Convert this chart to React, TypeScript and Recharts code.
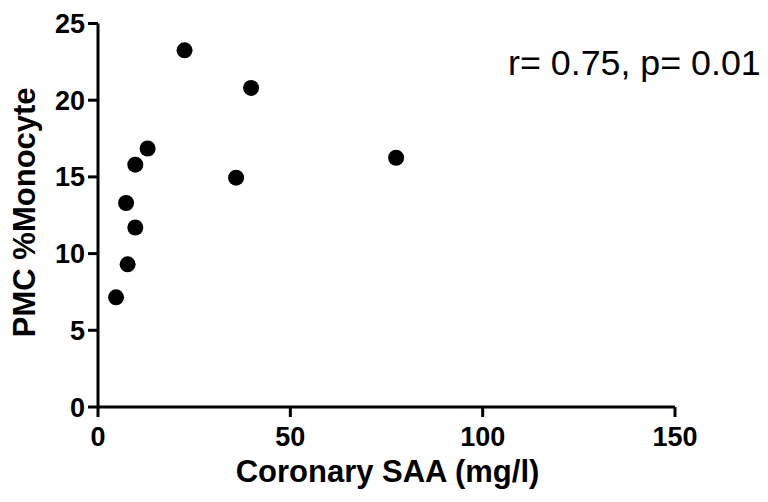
import React from "react";
import { ScatterChart, Scatter, XAxis, YAxis, Customized } from "recharts";

const saa = [4.7, 7.7, 7.3, 9.7, 9.7, 12.9, 22.5, 35.9, 39.8, 77.5];
const pmc = [7.15, 9.3, 13.3, 11.7, 15.8, 16.85, 23.25, 14.95, 20.8, 16.25];
const xTicks = [0, 50, 100, 150];
const yTicks = [0, 5, 10, 15, 20, 25];
const xTitle = "Coronary SAA (mg/l)";
const yTitle = "PMC %Monocyte";
const statText = "r= 0.75, p= 0.01";

const data = saa.map((x, i) => ({ x, y: pmc[i] }));

const FONT = "'Liberation Sans', Arial, Helvetica, sans-serif";

const Dot = (props: any) => <circle cx={props.cx} cy={props.cy} r={8} fill="#000" />;

const XTitle = (props: any) => {
  const vb = props.viewBox || {};
  return (
    <text x={vb.x + vb.width / 2 + 1} y={474} textAnchor="middle" fontFamily={FONT} fontWeight="bold" fontSize={31} fill="#000">
      {xTitle}
    </text>
  );
};

const YTitle = (props: any) => {
  const vb = props.viewBox || {};
  const cx = 16.5;
  const cy = vb.y + vb.height / 2 - 3;
  return (
    <text x={cx} y={cy} transform={`rotate(-90 ${cx} ${cy})`} textAnchor="middle" dominantBaseline="central" fontFamily={FONT} fontWeight="bold" fontSize={31} fill="#000">
      {yTitle}
    </text>
  );
};

const Stat = () => (
  <text x={500} y={67} fontFamily={FONT} fontSize={35.8} fill="#000">
    {statText}
  </text>
);

export default function App() {
  return (
    <ScatterChart width={760} height={494} margin={{ top: 15.5, right: 93, bottom: 0, left: 0 }}>
      <XAxis
        type="number"
        dataKey="x"
        domain={[0, 150]}
        ticks={xTicks}
        interval={0}
        height={95}
        axisLine={{ stroke: "#000", strokeWidth: 3 }}
        tickLine={{ stroke: "#000", strokeWidth: 3 }}
        tickSize={10}
        tickMargin={10}
        tick={{ fill: "#000", fontSize: 27, fontWeight: "bold", fontFamily: FONT }}
        label={<XTitle />}
      />
      <YAxis
        type="number"
        dataKey="y"
        domain={[0, 25]}
        ticks={yTicks}
        interval={0}
        width={90}
        axisLine={{ stroke: "#000", strokeWidth: 3 }}
        tickLine={{ stroke: "#000", strokeWidth: 3 }}
        tickSize={10}
        tickMargin={3}
        tick={{ fill: "#000", fontSize: 27, fontWeight: "bold", fontFamily: FONT }}
        label={<YTitle />}
      />
      <Scatter data={data} fill="#000" shape={<Dot />} isAnimationActive={false} />
      <Customized component={<Stat />} />
    </ScatterChart>
  );
}
